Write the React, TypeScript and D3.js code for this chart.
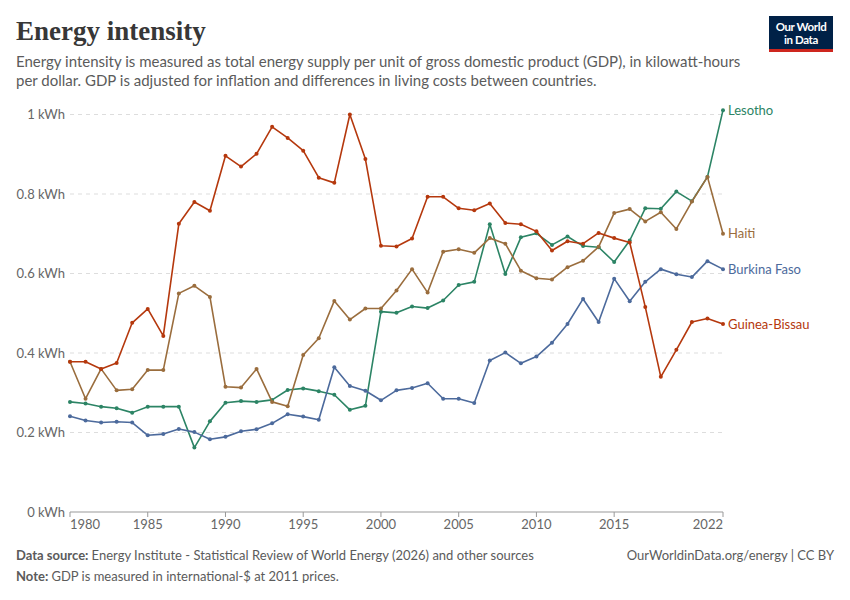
import React, { useEffect, useRef } from "react";
import * as d3 from "d3";

const years: number[] = d3.range(1980, 2023);

const lesotho: number[] = [
    0.277, 0.273, 0.265, 0.261, 0.25, 0.265, 0.265, 0.265, 0.162, 0.228,
    0.275, 0.279, 0.277, 0.282, 0.307, 0.311, 0.304, 0.295, 0.257, 0.267,
    0.504, 0.501, 0.517, 0.513, 0.532, 0.571, 0.579, 0.724, 0.599, 0.691,
    0.701, 0.672, 0.693, 0.669, 0.666, 0.629, 0.683, 0.764, 0.763, 0.806,
    0.782, 0.843, 1.011,
];

const haiti: number[] = [
    0.378, 0.285, 0.36, 0.306, 0.309, 0.357, 0.357, 0.55, 0.569, 0.541,
    0.315, 0.313, 0.36, 0.277, 0.266, 0.395, 0.437, 0.531, 0.484, 0.512,
    0.512, 0.557, 0.611, 0.552, 0.655, 0.661, 0.652, 0.689, 0.675, 0.607,
    0.588, 0.585, 0.616, 0.632, 0.667, 0.752, 0.762, 0.731, 0.754, 0.712,
    0.781, 0.843, 0.7,
];

const burkinaFaso: number[] = [
    0.241, 0.23, 0.225, 0.227, 0.225, 0.193, 0.196, 0.209, 0.201, 0.183,
    0.189, 0.203, 0.208, 0.223, 0.246, 0.24, 0.232, 0.364, 0.317, 0.305,
    0.281, 0.306, 0.312, 0.324, 0.285, 0.285, 0.274, 0.381, 0.401, 0.374,
    0.391, 0.426, 0.473, 0.536, 0.478, 0.587, 0.53, 0.579, 0.611, 0.598,
    0.591, 0.631, 0.611,
];

const guineaBissau: number[] = [
    0.378, 0.378, 0.36, 0.375, 0.476, 0.511, 0.443, 0.725, 0.78, 0.758,
    0.896, 0.869, 0.901, 0.969, 0.941, 0.909, 0.841, 0.828, 1.0, 0.888,
    0.67, 0.668, 0.688, 0.793, 0.793, 0.764, 0.759, 0.776, 0.727, 0.724,
    0.706, 0.658, 0.681, 0.675, 0.702, 0.689, 0.678, 0.516, 0.34, 0.408,
    0.478, 0.487, 0.473,
];

const xTicks: number[] = [1980, 1985, 1990, 1995, 2000, 2005, 2010, 2015, 2022];
const yTicks: number[] = [0, 0.2, 0.4, 0.6, 0.8, 1];

const series = [
    { name: "Lesotho", values: lesotho, color: "#2c8465" },
    { name: "Haiti", values: haiti, color: "#9a6d3d" },
    { name: "Burkina Faso", values: burkinaFaso, color: "#4c6a9c" },
    { name: "Guinea-Bissau", values: guineaBissau, color: "#b5380d" },
];

const width = 850;
const height = 600;
const margins = { top: 114.5, right: 127, bottom: 88, left: 70 };
const font = "Lato, 'Noto Sans', sans-serif";

const EnergyIntensity: React.FC = () => {
    const svgRef = useRef<SVGSVGElement | null>(null);

    useEffect(() => {
        if (!svgRef.current) return;
        const svg = d3.select(svgRef.current);
        svg.selectAll("*").remove();

        const x = d3
            .scaleLinear()
            .domain([1980, 2022])
            .range([margins.left, width - margins.right]);
        const y = d3
            .scaleLinear()
            .domain([0, 1])
            .range([height - margins.bottom, margins.top]);

        // Title + subtitle
        svg.append("text")
            .attr("x", 16)
            .attr("y", 40)
            .attr("font-family", "'Liberation Serif', 'DejaVu Serif', serif")
            .attr("font-size", 27)
            .attr("font-weight", "bold")
            .attr("fill", "#373737")
            .text("Energy intensity");

        const sub = [
            "Energy intensity is measured as total energy supply per unit of gross domestic product (GDP), in kilowatt-hours",
            "per dollar. GDP is adjusted for inflation and differences in living costs between countries.",
        ];
        sub.forEach((s, i) => {
            svg.append("text")
                .attr("x", 16)
                .attr("y", 67 + i * 19)
                .attr("font-family", font)
                .attr("font-size", 15)
                .attr("fill", "#5b5b5b")
                .text(s);
        });

        // Logo
        svg.append("rect")
            .attr("x", 769)
            .attr("y", 16)
            .attr("width", 64)
            .attr("height", 36)
            .attr("fill", "#002147");
        svg.append("rect")
            .attr("x", 769)
            .attr("y", 49)
            .attr("width", 64)
            .attr("height", 3)
            .attr("fill", "#ce261e");
        ["Our World", "in Data"].forEach((s, i) => {
            svg.append("text")
                .attr("x", 801)
                .attr("y", 31 + i * 13)
                .attr("text-anchor", "middle")
                .attr("font-family", font)
                .attr("font-size", 11.5)
                .attr("font-weight", "bold")
                .attr("letter-spacing", -0.4)
                .attr("fill", "white")
                .text(s);
        });

        // Y grid + labels
        const yAxis = svg.append("g");
        yTicks.forEach((t) => {
            if (t > 0) {
                yAxis.append("line")
                    .attr("x1", margins.left)
                    .attr("x2", width - margins.right)
                    .attr("y1", y(t))
                    .attr("y2", y(t))
                    .attr("stroke", "#dddddd")
                    .attr("stroke-dasharray", "4,4");
            }
            yAxis.append("text")
                .attr("x", 65)
                .attr("y", y(t))
                .attr("dy", "0.35em")
                .attr("text-anchor", "end")
                .attr("font-family", font)
                .attr("font-size", 13)
                .attr("fill", "#666")
                .text(`${d3.format("~g")(t)} kWh`);
        });

        // X axis
        const xAxis = svg.append("g");
        xAxis.append("line")
            .attr("x1", margins.left)
            .attr("x2", x(2022))
            .attr("y1", y(0))
            .attr("y2", y(0))
            .attr("stroke", "#999");
        xTicks.forEach((t) => {
            xAxis.append("line")
                .attr("x1", x(t))
                .attr("x2", x(t))
                .attr("y1", y(0))
                .attr("y2", y(0) + 5)
                .attr("stroke", "#999");
            xAxis.append("text")
                .attr("x", x(t))
                .attr("y", y(0) + 17)
                .attr("text-anchor", t === 1980 ? "start" : t === 2022 ? "end" : "middle")
                .attr("font-family", font)
                .attr("font-size", 13)
                .attr("fill", "#666")
                .text(t);
        });

        const line = d3
            .line<number>()
            .x((_, i) => x(years[i]))
            .y((d) => y(d));

        series.forEach((s) => {
            svg.append("path")
                .datum(s.values)
                .attr("fill", "none")
                .attr("stroke", s.color)
                .attr("stroke-width", 1.6)
                .attr("stroke-linejoin", "round")
                .attr("d", line);

            svg.append("g")
                .attr("fill", s.color)
                .selectAll("circle")
                .data(s.values)
                .join("circle")
                .attr("cx", (_, i) => x(years[i]))
                .attr("cy", (d) => y(d))
                .attr("r", 2);

            const last = s.values[s.values.length - 1];
            svg.append("text")
                .attr("x", x(2022) + 5)
                .attr("y", y(last))
                .attr("dy", "0.35em")
                .attr("font-family", font)
                .attr("font-size", 13)
                .attr("fill", s.color)
                .text(s.name);
        });

        // Footer
        const src = svg.append("text")
            .attr("x", 16)
            .attr("y", 560)
            .attr("font-family", font)
            .attr("font-size", 13)
            .attr("fill", "#5b5b5b");
        src.append("tspan").attr("font-weight", "bold").text("Data source: ");
        src.append("tspan").text("Energy Institute - Statistical Review of World Energy (2026) and other sources");

        const note = svg.append("text")
            .attr("x", 16)
            .attr("y", 581)
            .attr("font-family", font)
            .attr("font-size", 13)
            .attr("fill", "#5b5b5b");
        note.append("tspan").attr("font-weight", "bold").text("Note: ");
        note.append("tspan").text("GDP is measured in international-$ at 2011 prices.");

        svg.append("text")
            .attr("x", 834)
            .attr("y", 560)
            .attr("text-anchor", "end")
            .attr("font-family", font)
            .attr("font-size", 13)
            .attr("fill", "#5b5b5b")
            .text("OurWorldinData.org/energy | CC BY");
    }, []);

    return (
        <svg
            ref={svgRef}
            width={width}
            height={height}
            style={{ position: "absolute", left: 0, top: 0, background: "white" }}
        ></svg>
    );
};

export default function App() {
    return <EnergyIntensity />;
}
